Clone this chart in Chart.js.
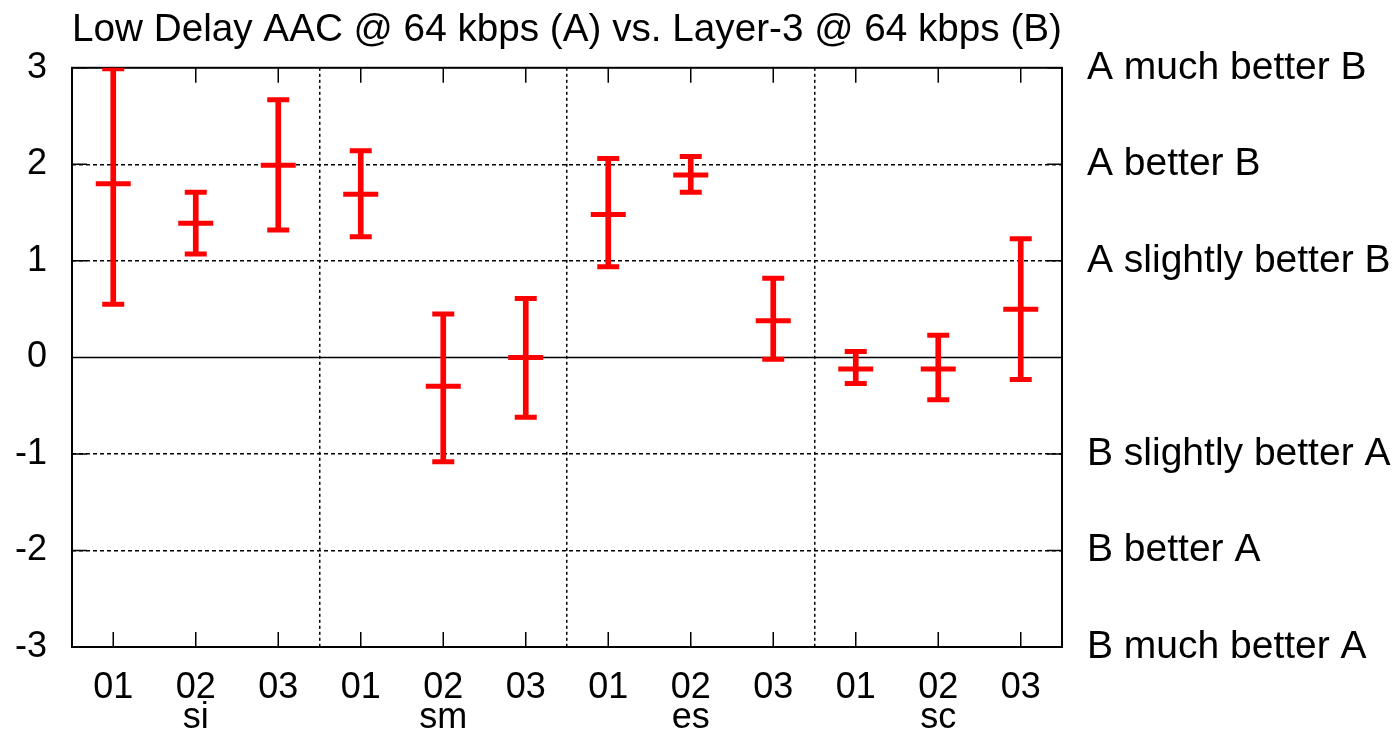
<!DOCTYPE html>
<html>
<head>
<meta charset="utf-8">
<script src="https://cdn.jsdelivr.net/npm/chart.js@4.4.0/dist/chart.umd.min.js"></script>
<style>
html, body { margin: 0; padding: 0; background: #fff; }
#wrap { width: 1400px; height: 730px; }
</style>
</head>
<body>
<div id="wrap"><canvas id="chart"></canvas></div>
<script>
var titleText = 'Low Delay AAC @ 64 kbps (A) vs. Layer-3 @ 64 kbps (B)';
var tickLabels = ['01', '02', '03', '01', '02', '03', '01', '02', '03', '01', '02', '03'];
var groupLabels = ['si', 'sm', 'es', 'sc'];
var means = [1.80, 1.39, 1.99, 1.69, -0.30, 0.00, 1.48, 1.89, 0.38, -0.12, -0.12, 0.50];
var lows  = [0.55, 1.07, 1.32, 1.25, -1.08, -0.62, 0.94, 1.71, -0.02, -0.27, -0.44, -0.23];
var highs = [2.99, 1.71, 2.67, 2.14, 0.45, 0.61, 2.06, 2.08, 0.82, 0.06, 0.23, 1.23];
var rightValues = [3, 2, 1, 0, -1, -2, -3];
var rightLabels = ['A much better B', 'A better B', 'A slightly better B', '',
                   'B slightly better A', 'B better A', 'B much better A'];

var FONT = '"Liberation Sans", Arial, Helvetica, sans-serif';
var RED = '#ff0000';

// x labels: group name goes under the middle tick of each group
var xLabels = tickLabels.map(function(t, i) {
    if (i % 3 === 1) return [t, groupLabels[(i - 1) / 3]];
    return t;
});

// frame, zero line and inward ticks like gnuplot
var framePlugin = {
    id: 'frame',
    beforeDatasetsDraw: function(chart) {
        var ctx = chart.ctx, a = chart.chartArea;
        var x = chart.scales.x, y = chart.scales.y;
        ctx.save();
        ctx.strokeStyle = '#000';
        ctx.lineWidth = 1.5;
        var y0 = y.getPixelForValue(0);
        ctx.beginPath();
        ctx.moveTo(a.left, y0);
        ctx.lineTo(a.right, y0);
        for (var i = 0; i < tickLabels.length; i++) {
            var px = x.getPixelForValue(i);
            ctx.moveTo(px, a.bottom);
            ctx.lineTo(px, a.bottom - 15);
            ctx.moveTo(px, a.top);
            ctx.lineTo(px, a.top + 15);
        }
        y.ticks.forEach(function(t) {
            var py = y.getPixelForValue(t.value);
            ctx.moveTo(a.left, py);
            ctx.lineTo(a.left + 15, py);
            ctx.moveTo(a.right, py);
            ctx.lineTo(a.right - 15, py);
        });
        ctx.stroke();
        ctx.lineWidth = 2;
        ctx.strokeRect(a.left, a.top, a.right - a.left, a.bottom - a.top);
        ctx.restore();
    }
};

function capSet(data, r) {
    return {
        type: 'line',
        data: data,
        showLine: false,
        pointStyle: 'line',
        pointRadius: r,
        pointHoverRadius: r,
        pointBorderWidth: 5,
        pointHoverBorderWidth: 5,
        borderColor: RED,
        pointBorderColor: RED,
        backgroundColor: RED
    };
}

new Chart(document.getElementById('chart'), {
    type: 'bar',
    data: {
        labels: xLabels,
        datasets: [
            {
                type: 'bar',
                data: lows.map(function(l, i) { return [l, highs[i]]; }),
                backgroundColor: RED,
                barThickness: 5,
                borderWidth: 0
            },
            capSet(lows, 11),
            capSet(highs, 11),
            capSet(means, 17.5)
        ]
    },
    options: {
        responsive: true,
        maintainAspectRatio: false,
        animation: false,
        layout: { padding: 0 },
        plugins: {
            legend: { display: false },
            tooltip: { enabled: false },
            title: {
                display: true,
                text: titleText,
                fullSize: false,
                color: '#000',
                font: { family: FONT, size: 39, weight: 'normal' },
                padding: { top: 7, bottom: 14 }
            }
        },
        scales: {
            x: {
                type: 'category',
                offset: true,
                grid: {
                    offset: true,
                    drawTicks: false,
                    lineWidth: 1.5,
                    color: function(c) {
                        return (c.index === 3 || c.index === 6 || c.index === 9) ? '#000' : 'rgba(0,0,0,0)';
                    }
                },
                border: { display: false, dash: [3, 3] },
                ticks: {
                    color: '#000',
                    font: { family: FONT, size: 36, lineHeight: 0.83 },
                    padding: 26,
                    maxRotation: 0,
                    autoSkip: false
                },
                afterFit: function(s) { s.height = 83; }
            },
            y: {
                position: 'left',
                min: -3,
                max: 3,
                grid: {
                    drawTicks: false,
                    lineWidth: 1.5,
                    color: function(c) {
                        var v = c.tick ? c.tick.value : 0;
                        return (v === 0 || v === 3 || v === -3) ? 'rgba(0,0,0,0)' : '#000';
                    }
                },
                border: { display: false, dash: [4, 3] },
                ticks: {
                    stepSize: 1,
                    color: '#000',
                    padding: 25,
                    font: { family: FONT, size: 36 }
                },
                afterFit: function(s) { s.width = 72; }
            },
            y2: {
                position: 'right',
                min: -3,
                max: 3,
                grid: { display: false, drawTicks: false },
                border: { display: false },
                ticks: {
                    stepSize: 1,
                    color: '#000',
                    padding: 25,
                    font: { family: FONT, size: 39 },
                    callback: function(v) {
                        var k = rightValues.indexOf(v);
                        return k >= 0 ? rightLabels[k] : '';
                    }
                },
                afterFit: function(s) { s.width = 338; }
            }
        }
    },
    plugins: [framePlugin]
});
</script>
</body>
</html>
